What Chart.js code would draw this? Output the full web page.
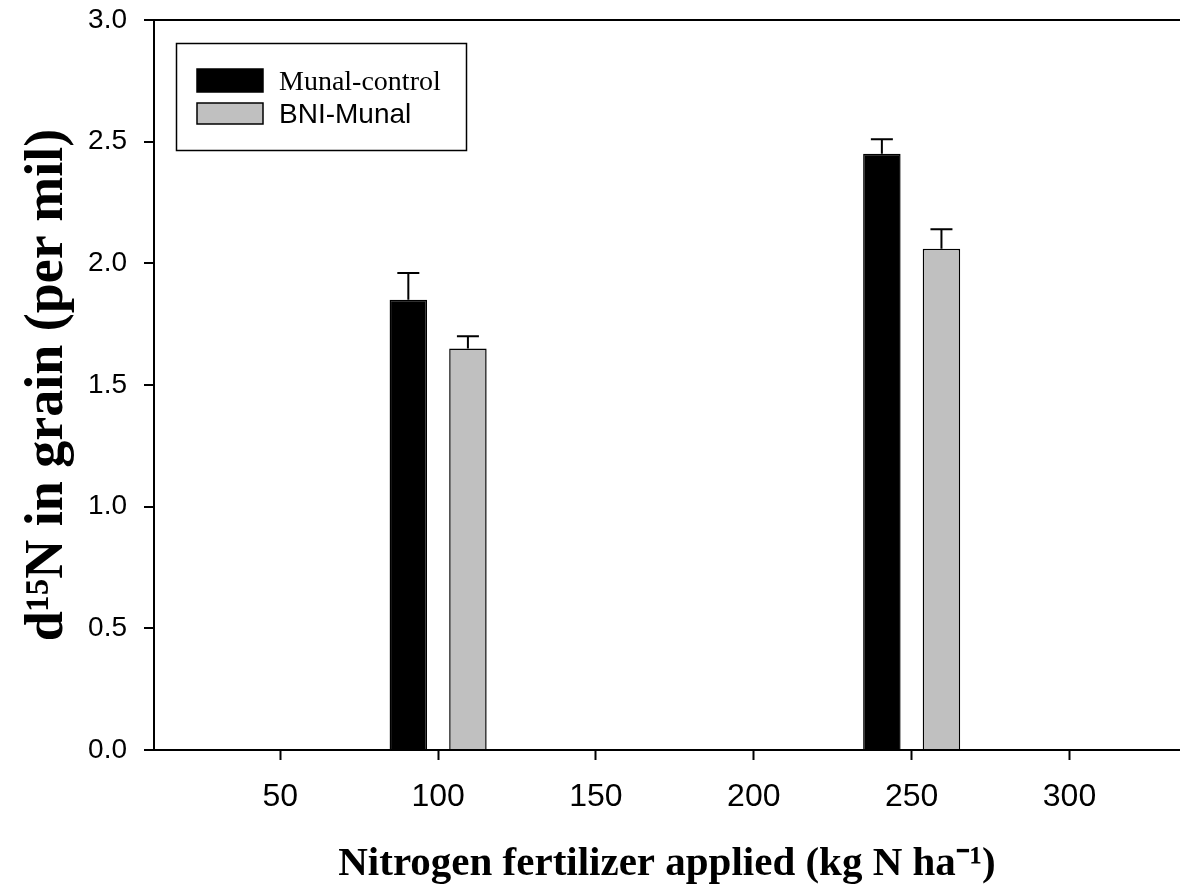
<!DOCTYPE html>
<html>
<head>
<meta charset="utf-8">
<title>d15N in grain</title>
<script src="https://cdn.jsdelivr.net/npm/chart.js@4/dist/chart.umd.min.js"></script>
<style>
    body { margin: 0; background: #fff; }
    canvas { display: block; }
</style>
</head>
<body>
<canvas id="grainChart" width="1180" height="895"></canvas>
<script>
// N rates (kg N/ha) and tick labels
const nRates = [100, 250];
const xTicks = [50, 100, 150, 200, 250, 300];
const yTicks = [0, 0.5, 1.0, 1.5, 2.0, 2.5, 3.0];

// d15N in grain (per mil), mean and upper error
const controlMeans = [1.85, 2.45];
const controlErr = [0.11, 0.06];
const bniMeans = [1.65, 2.06];
const bniErr = [0.05, 0.08];

const serif = '"Liberation Serif", "Times New Roman", serif';
const sans = '"Liberation Sans", Arial, sans-serif';

// upward-only error bars with a small cap
const errorBars = {
    id: 'errorBars',
    afterDatasetsDraw(chart) {
        const { ctx, scales: { y } } = chart;
        ctx.save();
        ctx.strokeStyle = '#000';
        ctx.lineWidth = 2;
        chart.data.datasets.forEach((ds, di) => {
            chart.getDatasetMeta(di).data.forEach((bar, i) => {
                const top = y.getPixelForValue(ds.data[i].y + ds.errors[i]);
                ctx.beginPath();
                ctx.moveTo(bar.x, bar.y);
                ctx.lineTo(bar.x, top);
                ctx.moveTo(bar.x - 11, top);
                ctx.lineTo(bar.x + 11, top);
                ctx.stroke();
            });
        });
        ctx.restore();
    }
};

// boxed legend, first entry serif, second sans (as in the original)
const legendBox = {
    id: 'legendBox',
    afterDraw(chart) {
        const ctx = chart.ctx;
        const rows = [
            { top: 69, h: 23, base: 90, font: '28px ' + serif },
            { top: 103, h: 21, base: 123, font: '28px ' + sans }
        ];
        ctx.save();
        ctx.strokeStyle = '#000';
        ctx.lineWidth = 1.5;
        ctx.strokeRect(176.5, 43.5, 290, 107);
        chart.data.datasets.forEach((ds, i) => {
            const r = rows[i];
            ctx.fillStyle = ds.backgroundColor;
            ctx.fillRect(197, r.top, 66, r.h);
            ctx.strokeRect(197, r.top, 66, r.h);
            ctx.fillStyle = '#000';
            ctx.font = r.font;
            ctx.textBaseline = 'alphabetic';
            ctx.fillText(ds.label, 279, r.base);
        });
        ctx.restore();
    }
};

const ctx = document.getElementById('grainChart').getContext('2d');

new Chart(ctx, {
    type: 'bar',
    data: {
        datasets: [{
            label: 'Munal-control',
            data: nRates.map((x, i) => ({ x, y: controlMeans[i] })),
            errors: controlErr,
            backgroundColor: '#000000',
            borderColor: '#000000',
            borderWidth: 1.5
        }, {
            label: 'BNI-Munal',
            data: nRates.map((x, i) => ({ x, y: bniMeans[i] })),
            errors: bniErr,
            backgroundColor: '#c0c0c0',
            borderColor: '#000000',
            borderWidth: 1.5
        }]
    },
    options: {
        responsive: false,
        animation: false,
        categoryPercentage: 0.755,
        barPercentage: 0.629,
        layout: { padding: { top: 20, right: 0, left: 0, bottom: 0 } },
        plugins: {
            legend: { display: false },
            tooltip: { enabled: false }
        },
        scales: {
            x: {
                type: 'linear',
                min: 10,
                max: 335,
                offset: false,
                afterBuildTicks: scale => { scale.ticks = xTicks.map(v => ({ value: v })); },
                afterFit: scale => { scale.height = 145; },
                border: { display: true, color: '#000', width: 2 },
                grid: {
                    offset: false,
                    drawOnChartArea: false,
                    tickColor: '#000',
                    tickLength: 10,
                    tickWidth: 2
                },
                ticks: {
                    color: '#000',
                    padding: 18,
                    maxRotation: 0,
                    font: { family: sans, size: 32 }
                },
                title: {
                    display: true,
                    text: 'Nitrogen fertilizer applied (kg N ha⁻¹)',
                    color: '#000',
                    padding: { top: 0, bottom: 6 },
                    font: { family: serif, size: 41, weight: 'bold' }
                }
            },
            y: {
                min: 0,
                max: 3,
                afterBuildTicks: scale => { scale.ticks = yTicks.map(v => ({ value: v })); },
                afterFit: scale => {
                    scale.width = 154;
                    // keep the plot top at the layout padding, not label overflow
                    scale.paddingTop = 0;
                    scale.paddingBottom = 0;
                },
                border: { display: true, color: '#000', width: 2 },
                grid: {
                    // only the 3.0 line is drawn across, as the top frame
                    color: c => (c.tick && c.tick.value === 3 ? '#000' : 'rgba(0,0,0,0)'),
                    lineWidth: 2,
                    tickColor: '#000',
                    tickLength: 10,
                    tickWidth: 2
                },
                ticks: {
                    color: '#000',
                    padding: 17,
                    font: { family: sans, size: 28 },
                    callback: v => Number(v).toFixed(1)
                },
                title: {
                    display: true,
                    text: 'd¹⁵N in grain (per mil)',
                    color: '#000',
                    padding: { top: 16, bottom: 0 },
                    font: { family: serif, size: 54, weight: 'bold' }
                }
            }
        }
    },
    plugins: [errorBars, legendBox]
});
</script>
</body>
</html>
